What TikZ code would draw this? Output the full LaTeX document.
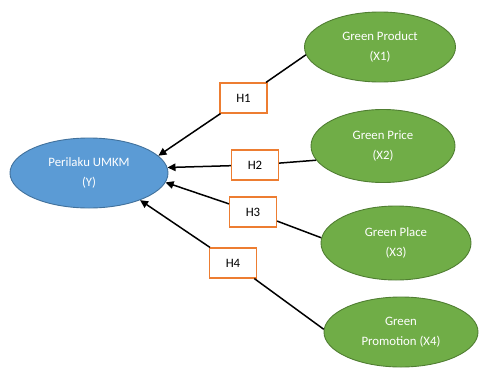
\documentclass[tikz,border=0pt]{standalone}
\usepackage{fontspec}
\setmainfont{Carlito}
\usetikzlibrary{shapes.geometric,arrows.meta}
\definecolor{yfill}{HTML}{5B9BD5}
\definecolor{yline}{HTML}{41719C}
\definecolor{xfill}{HTML}{70AD47}
\definecolor{xline}{HTML}{507E32}
\definecolor{hline}{HTML}{ED7D31}
\tikzset{
  varY/.style={ellipse,draw=yline,fill=yfill,line width=0.9pt,inner sep=0pt,
    text=white,align=center,font=\fontsize{12.8}{20}\selectfont},
  varX/.style={ellipse,draw=xline,fill=xfill,line width=0.9pt,inner sep=0pt,
    text=white,align=center,font=\fontsize{12.8}{20}\selectfont},
  hbox/.style={rectangle,draw=hline,fill=white,line width=1.2pt,inner sep=0pt,
    minimum width=47pt,minimum height=30pt,font=\fontsize{12.8}{15}\selectfont},
  conn/.style={line width=1.5pt,black},
  arr/.style={conn,-{Triangle[length=8pt,width=7.5pt]}}
}
\begin{document}
\begin{tikzpicture}[x=1pt,y=-1pt]
\useasboundingbox (0,0) rectangle (479,367);
\node[varY,minimum width=158pt,minimum height=70pt] (Y) at (89,173) {Perilaku UMKM\\(Y)};
\node[varX,minimum width=151pt,minimum height=70pt] (X1) at (380,47) {Green Product\\(X1)};
\node[varX,minimum width=144pt,minimum height=73pt] (X2) at (383,146) {Green Price\\(X2)};
\node[varX,minimum width=150pt,minimum height=74pt] (X3) at (396,243) {Green Place\\(X3)};
\node[varX,minimum width=154pt,minimum height=70pt] (X4) at (401,332) {Green\\Promotion (X4)};
\node[hbox] (H1) at (243.5,98) {H1};
\node[hbox] (H2) at (255,165) {H2};
\node[hbox] (H3) at (253,212) {H3};
\node[hbox] (H4) at (233,263) {H4};
\draw[conn] (X1.186) -- (H1);
\draw[conn] (X2.192) -- (H2);
\draw[conn] (X3.176) -- (H3);
\draw[conn] (X4.178) -- (H4);
\draw[arr] (H1) -- (Y.14);
\draw[arr] (H2) -- (Y.4);
\draw[arr] (H3) -- (Y.-7);
\draw[arr] (H4) -- (Y.-28);
\end{tikzpicture}
\end{document}
